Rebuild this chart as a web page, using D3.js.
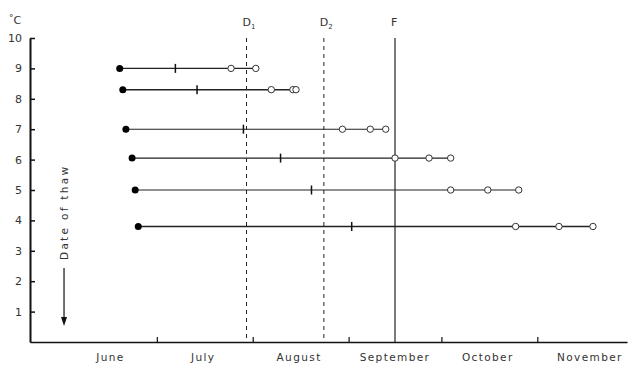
<!DOCTYPE html>
<html>
<head>
  <meta charset="utf-8">
  <title>Thaw chart</title>
  <script src="https://d3js.org/d3.v7.min.js"></script>
  <style>
    body { margin: 0; background: #fff; }
    text { font-family: "DejaVu Sans", sans-serif; fill: #333; }
  </style>
</head>
<body>
  <div id="view"></div>
  <script>
    var width = 629;
    var height = 365;

    // temperature level of each row (°C)
    var temps = [9.0, 8.3, 7.0, 6.05, 5.0, 3.8];
    // filled circle (start), bar mark, open circles
    var starts = ["06-19", "06-20", "06-21", "06-23", "06-24", "06-25"];
    var marks = ["07-07", "07-14", "07-29", "08-10", "08-20", "09-02"];
    var opens = [
      ["07-25", "08-02"],
      ["08-07", "08-14", "08-15"],
      ["08-30", "09-08", "09-13"],
      ["09-16", "09-27", "10-04"],
      ["10-04", "10-16", "10-26"],
      ["10-25", "11-08", "11-19"]
    ];
    // reference lines
    var refNames = ["D", "D", "F"];
    var refSubs = ["1", "2", ""];
    var refDates = ["07-30", "08-24", "09-16"];
    var refDashed = [true, true, false];
    // month labels
    var months = ["June", "July", "August", "September", "October", "November"];
    var monthMid = ["06-16", "07-16", "08-16", "09-16", "10-16", "11-18"];
    var monthStarts = ["07-01", "08-01", "09-01", "10-01", "11-01"];
    var thawDate = "06-01";
    var yTicks = [1, 2, 3, 4, 5, 6, 7, 8, 9, 10];

    var parse = d3.timeParse("%m-%d");

    var svg = d3.select("#view")
      .append("svg")
      .attr("width", width)
      .attr("height", height);

    var x = d3.scaleTime()
      .domain([parse("05-21"), parse("11-30")])
      .range([30, 627]);

    var y = d3.scaleLinear()
      .domain([0, 10])
      .range([342, 38]);

    // left axis
    var yAxis = svg.append("g")
      .attr("transform", "translate(30,0)")
      .call(d3.axisLeft(y).tickValues(yTicks).tickSize(-5).tickSizeOuter(0).tickPadding(8));
    yAxis.select(".domain").attr("stroke", "#111").attr("stroke-width", 2);
    yAxis.selectAll(".tick line").attr("stroke", "#111").attr("stroke-width", 1.5);
    yAxis.selectAll(".tick text")
      .attr("font-size", 11)
      .attr("fill", "#444")
      .style("font-family", "DejaVu Sans");

    var unit = svg.append("text")
      .attr("x", 9)
      .attr("y", 24)
      .attr("font-size", 11)
      .attr("fill", "#444");
    unit.append("tspan").attr("font-size", 9).attr("dy", -3).text("°");
    unit.append("tspan").attr("dy", 3).text("C");

    // bottom axis
    var xAxis = svg.append("g")
      .attr("transform", "translate(0,342)")
      .call(d3.axisBottom(x).tickValues(monthStarts.map(parse)).tickSize(-5).tickSizeOuter(0).tickFormat(""));
    xAxis.select(".domain").attr("stroke", "#111").attr("stroke-width", 1.5);
    xAxis.selectAll(".tick line").attr("stroke", "#111").attr("stroke-width", 1.2);

    svg.selectAll(".month")
      .data(months)
      .enter()
      .append("text")
      .attr("class", "month")
      .attr("x", function (d, i) { return x(parse(monthMid[i])); })
      .attr("y", 361)
      .attr("text-anchor", "middle")
      .attr("font-size", 10.5)
      .attr("letter-spacing", 1.4)
      .attr("fill", "#333")
      .text(function (d) { return d; });

    // reference lines D1, D2, F
    refDates.forEach(function (d, i) {
      var xx = x(parse(d));
      svg.append("line")
        .attr("x1", xx).attr("x2", xx)
        .attr("y1", y(10)).attr("y2", y(0))
        .attr("stroke", "#222")
        .attr("stroke-width", refDashed[i] ? 1 : 1.2)
        .attr("stroke-dasharray", refDashed[i] ? "4,4" : null);
      var t = svg.append("text")
        .attr("x", xx - 4)
        .attr("y", 26)
        .attr("font-size", 11)
        .attr("fill", "#333")
        .text(refNames[i]);
      if (refSubs[i]) {
        t.append("tspan")
          .attr("font-size", 7)
          .attr("dy", 3)
          .text(refSubs[i]);
      }
    });

    // date of thaw
    var tx = x(parse(thawDate));
    svg.append("text")
      .attr("transform", "translate(" + (tx + 4) + ",260) rotate(-90)")
      .attr("font-size", 10.5)
      .attr("letter-spacing", 2.3)
      .attr("fill", "#333")
      .text("Date of thaw");
    svg.append("line")
      .attr("x1", tx).attr("x2", tx)
      .attr("y1", 268).attr("y2", 318)
      .attr("stroke", "#111")
      .attr("stroke-width", 1.2);
    svg.append("path")
      .attr("d", "M" + (tx - 3) + ",317 L" + (tx + 3) + ",317 L" + tx + ",326 Z")
      .attr("fill", "#111");

    // rows
    temps.forEach(function (t, i) {
      var yy = y(t);
      var ends = opens[i];
      var g = svg.append("g");
      g.append("line")
        .attr("x1", x(parse(starts[i])))
        .attr("x2", x(parse(ends[ends.length - 1])))
        .attr("y1", yy).attr("y2", yy)
        .attr("stroke", "#222")
        .attr("stroke-width", (i === 1 || i === 5) ? 1.6 : 1.1);
      var mx = x(parse(marks[i]));
      g.append("line")
        .attr("x1", mx).attr("x2", mx)
        .attr("y1", yy - 4.5).attr("y2", yy + 4.5)
        .attr("stroke", "#111")
        .attr("stroke-width", 1.5);
      g.selectAll(".open")
        .data(ends)
        .enter()
        .append("circle")
        .attr("class", "open")
        .attr("cx", function (d) { return x(parse(d)); })
        .attr("cy", yy)
        .attr("r", 3.2)
        .attr("fill", "#fff")
        .attr("stroke", "#333")
        .attr("stroke-width", 1);
      g.append("circle")
        .attr("cx", x(parse(starts[i])))
        .attr("cy", yy)
        .attr("r", 3.5)
        .attr("fill", "#000");
    });
  </script>
</body>
</html>
